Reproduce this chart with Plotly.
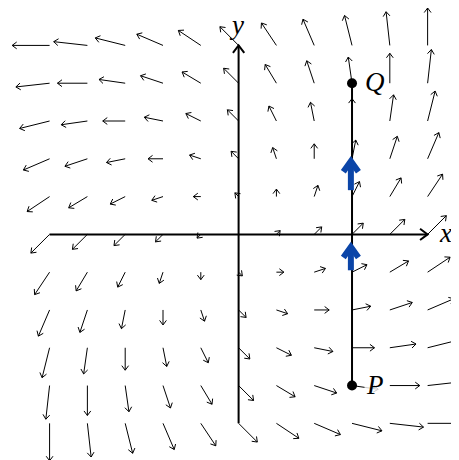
import numpy as np
import plotly.graph_objects as go

# grid of sample points (x left->right, y top->bottom)
xs = [-5, -4, -3, -2, -1, 0, 1, 2, 3, 4, 5]
ys = [5, 4, 3, 2, 1, 0, -1, -2, -3, -4, -5]

# vector components, rows follow ys, columns follow xs
U = [
    [-10, -9, -8, -7, -6, -5, -4, -3, -2, -1, 0],
    [-9, -8, -7, -6, -5, -4, -3, -2, -1, 0, 1],
    [-8, -7, -6, -5, -4, -3, -2, -1, 0, 1, 2],
    [-7, -6, -5, -4, -3, -2, -1, 0, 1, 2, 3],
    [-6, -5, -4, -3, -2, -1, 0, 1, 2, 3, 4],
    [-5, -4, -3, -2, -1, 0, 1, 2, 3, 4, 5],
    [-4, -3, -2, -1, 0, 1, 2, 3, 4, 5, 6],
    [-3, -2, -1, 0, 1, 2, 3, 4, 5, 6, 7],
    [-2, -1, 0, 1, 2, 3, 4, 5, 6, 7, 8],
    [-1, 0, 1, 2, 3, 4, 5, 6, 7, 8, 9],
    [0, 1, 2, 3, 4, 5, 6, 7, 8, 9, 10],
]
V = [
    [0, 1, 2, 3, 4, 5, 6, 7, 8, 9, 10],
    [-1, 0, 1, 2, 3, 4, 5, 6, 7, 8, 9],
    [-2, -1, 0, 1, 2, 3, 4, 5, 6, 7, 8],
    [-3, -2, -1, 0, 1, 2, 3, 4, 5, 6, 7],
    [-4, -3, -2, -1, 0, 1, 2, 3, 4, 5, 6],
    [-5, -4, -3, -2, -1, 0, 1, 2, 3, 4, 5],
    [-6, -5, -4, -3, -2, -1, 0, 1, 2, 3, 4],
    [-7, -6, -5, -4, -3, -2, -1, 0, 1, 2, 3],
    [-8, -7, -6, -5, -4, -3, -2, -1, 0, 1, 2],
    [-9, -8, -7, -6, -5, -4, -3, -2, -1, 0, 1],
    [-10, -9, -8, -7, -6, -5, -4, -3, -2, -1, 0],
]

# path segment P -> Q and points
P = (3, -4)
Q = (3, 4)
point_labels = ["P", "Q"]

# blue direction markers along the path (y start, y tip)
blue_start = [1.17, -0.95]
blue_tip = [1.94, -0.33]

SCALE = 0.099


def arrow_paths(x0, y0, x1, y1, L, W):
    dx, dy = x1 - x0, y1 - y0
    n = np.hypot(dx, dy)
    lx, ly, hx, hy = [x0, x1, None], [y0, y1, None], [], []
    if n < 1e-9:
        return lx, ly, hx, hy
    ux, uy = dx / n, dy / n
    px, py = -uy, ux
    hx = [x1 - L * ux + W * px, x1, x1 - L * ux - W * px, None]
    hy = [y1 - L * uy + W * py, y1, y1 - L * uy - W * py, None]
    return lx, ly, hx, hy


fx, fy = [], []
for i, yv in enumerate(ys):
    for j, xv in enumerate(xs):
        u, v = U[i][j] * SCALE, V[i][j] * SCALE
        if u == 0 and v == 0:
            continue
        lx, ly, hx, hy = arrow_paths(xv, yv, xv + u, yv + v, 0.12, 0.09)
        fx += lx + hx
        fy += ly + hy

fig = go.Figure()
fig.add_trace(go.Scatter(x=fx, y=fy, mode="lines",
                         line=dict(color="black", width=1), hoverinfo="skip"))

# axes with arrow tips
ax_x, ax_y = [], []
for (x0, y0, x1, y1) in [(xs[0], 0, xs[-1], 0), (0, ys[-1], 0, ys[0])]:
    lx, ly, hx, hy = arrow_paths(x0, y0, x1, y1, 0.2, 0.15)
    ax_x += lx + hx
    ax_y += ly + hy
fig.add_trace(go.Scatter(x=ax_x, y=ax_y, mode="lines",
                         line=dict(color="black", width=2), hoverinfo="skip"))

# path P -> Q
fig.add_trace(go.Scatter(x=[P[0], Q[0]], y=[P[1], Q[1]], mode="lines",
                         line=dict(color="black", width=2), hoverinfo="skip"))

# blue direction arrows
bx, by = [], []
for s, t in zip(blue_start, blue_tip):
    lx, ly, hx, hy = arrow_paths(P[0] - 0.03, s, P[0] - 0.03, t, 0.28, 0.2)
    bx += lx + hx
    by += ly + hy
fig.add_trace(go.Scatter(x=bx, y=by, mode="lines",
                         line=dict(color="#0b45a8", width=6), hoverinfo="skip"))

fig.add_trace(go.Scatter(x=[P[0], Q[0]], y=[P[1], Q[1]], mode="markers",
                         marker=dict(color="black", size=10), hoverinfo="skip"))

font = dict(family="Liberation Serif", size=27, color="black")
for lab, (px_, py_) in zip(point_labels, [P, Q]):
    fig.add_annotation(x=px_ + 0.6, y=py_ + 0.02, text="<i>%s</i>" % lab,
                       showarrow=False, font=font,
                       bgcolor="rgba(255,255,255,0.8)", xanchor="center",
                       yanchor="middle")
fig.add_annotation(x=xs[-1] + 0.46, y=0.03, text="<i>x</i>", showarrow=False,
                   font=font, xanchor="center", yanchor="middle")
fig.add_annotation(x=-0.05, y=ys[0] + 0.55, text="<i>y</i>", showarrow=False,
                   font=font, xanchor="center", yanchor="middle")

# the page body has an 8px default margin, so the figure is sized and ranged
# to cover the visible window area from pixel 8 onward
fig.update_layout(
    width=451, height=452, margin=dict(l=0, r=0, t=0, b=0),
    plot_bgcolor="white", paper_bgcolor="white", showlegend=False,
    xaxis=dict(range=[-6.10, 5.83], visible=False, fixedrange=True),
    yaxis=dict(range=[-5.97, 5.99], visible=False, fixedrange=True),
)
fig.write_html("out.html")
